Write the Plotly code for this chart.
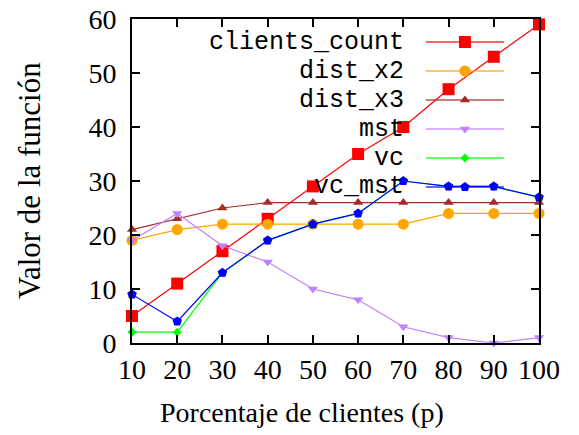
import plotly.graph_objects as go

x_pct = [10, 20, 30, 40, 50, 60, 70, 80, 90, 100]
names = ["clients_count", "dist_x2", "dist_x3", "mst", "vc", "vc_mst"]
clients_count = [5, 11, 17, 23, 29, 35, 40, 47, 53, 59]
dist_x2 = [19, 21, 22, 22, 22, 22, 22, 24, 24, 24]
dist_x3 = [21, 23, 25, 26, 26, 26, 26, 26, 26, 26]
mst = [19, 24, 18, 15, 10, 8, 3, 1, 0, 1]
vc = [2, 2, 13, 19, 22, 24, 30, 29, 29, 27]
vc_mst = [9, 4, 13, 19, 22, 24, 30, 29, 29, 27]
series = [clients_count, dist_x2, dist_x3, mst, vc, vc_mst]

colors = ["#ff0000", "#ffa500", "#a52a2a", "#c080ff", "#00ff00", "#0000ff"]
symbols = ["square", "circle", "triangle-up", "triangle-down", "diamond", "pentagon"]
msizes = [12, 11, 9, 9, 7, 10]

x_ticks = [10, 20, 30, 40, 50, 60, 70, 80, 90, 100]
y_ticks = [0, 10, 20, 30, 40, 50, 60]
x_title = "Porcentaje de clientes (p)"
y_title = "Valor de la función"

fig = go.Figure()
for name, ys, c, s, ms in zip(names, series, colors, symbols, msizes):
    fig.add_trace(go.Scatter(x=x_pct, y=ys, mode="lines+markers", name=name,
                             line=dict(color=c, width=1.2),
                             marker=dict(symbol=s, size=ms, color=c, line=dict(width=0)),
                             showlegend=False, cliponaxis=False))

# custom gnuplot-style key (text on left, sample on right), on an overlay axis
row_top, row_step = 0.929, 0.0895
line_x0, line_x1, text_x = 0.722, 0.914, 0.673
annotations = []
for i, (name, c, s, ms) in enumerate(zip(names, colors, symbols, msizes)):
    ry = row_top - i * row_step
    fig.add_trace(go.Scatter(x=[line_x0, line_x1], y=[ry, ry], mode="lines",
                             line=dict(color=c, width=2), opacity=0.6,
                             xaxis="x2", yaxis="y2", showlegend=False, hoverinfo="skip"))
    fig.add_trace(go.Scatter(x=[(line_x0 + line_x1) / 2], y=[ry], mode="markers",
                             marker=dict(symbol=s, size=ms, color=c, line=dict(width=0)),
                             xaxis="x2", yaxis="y2", showlegend=False, hoverinfo="skip"))
    annotations.append(dict(x=text_x, y=ry, xref="x2", yref="y2", text=name,
                            showarrow=False, xanchor="right", yanchor="middle",
                            font=dict(family="Liberation Mono", size=25, color="black")))

annotations.append(dict(x=0.4165, y=-0.216, xref="paper", yref="paper", text=x_title,
                        showarrow=False, xanchor="center", yanchor="middle",
                        font=dict(family="Liberation Serif", size=28, color="black")))
annotations.append(dict(x=-0.253, y=0.5, xref="paper", yref="paper", text=y_title,
                        showarrow=False, xanchor="center", yanchor="middle", textangle=-90,
                        font=dict(family="Liberation Serif", size=31, color="black")))

axis_common = dict(showline=True, linecolor="black", linewidth=2, mirror="ticks",
                   ticks="inside", ticklen=8, tickwidth=1.5, tickcolor="black",
                   showgrid=False, zeroline=False, automargin=False,
                   tickfont=dict(family="Liberation Serif", size=28, color="black"))

fig.update_layout(
    width=579, height=435,
    margin=dict(l=132, r=40, t=19, b=92),
    plot_bgcolor="white", paper_bgcolor="white",
    xaxis=dict(range=[10, 100], tickvals=x_ticks, **axis_common),
    yaxis=dict(range=[0, 60], tickvals=y_ticks, ticklabelstandoff=8, **axis_common),
    xaxis2=dict(range=[0, 1], overlaying="x", visible=False, fixedrange=True),
    yaxis2=dict(range=[0, 1], overlaying="y", visible=False, fixedrange=True, anchor="x2"),
    annotations=annotations,
    showlegend=False,
)

fig.write_html("out.html")
